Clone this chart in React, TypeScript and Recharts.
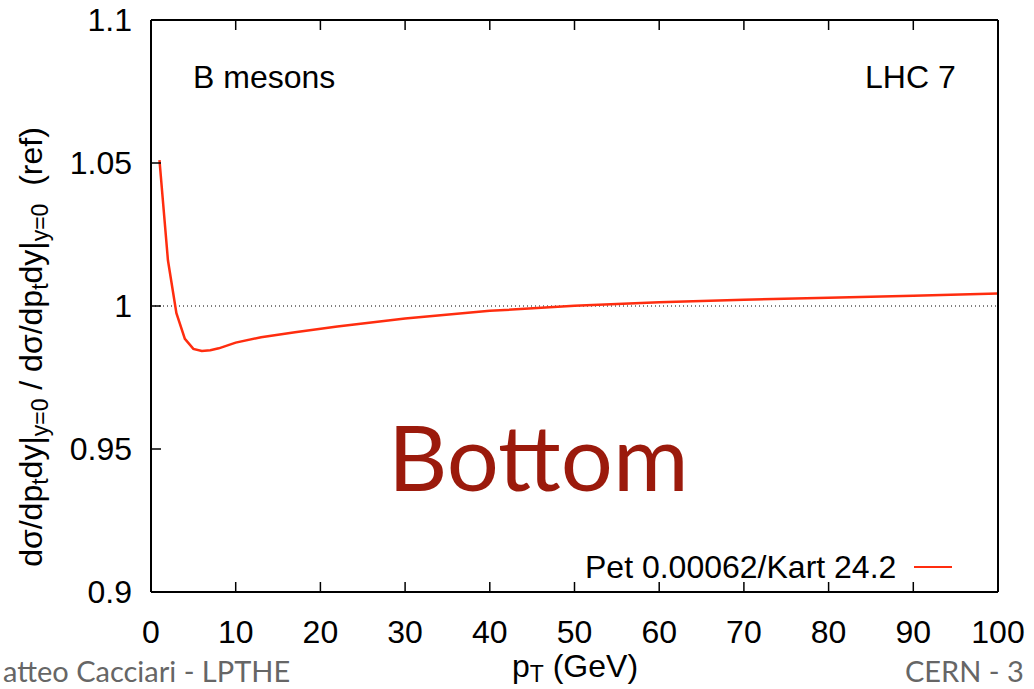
import React from "react";
import {
  LineChart,
  Line,
  XAxis,
  YAxis,
  ReferenceLine,
  Legend,
} from "recharts";

// values
const ptValues = [1, 2, 3, 4, 5, 6, 7, 8, 10, 13, 17, 22, 30, 40, 50, 60, 70, 80, 90, 100];
const ratioValues = [
  1.051, 1.016, 0.9975, 0.9885, 0.985, 0.9843, 0.9845, 0.9852, 0.9872, 0.9891,
  0.9908, 0.9928, 0.9956, 0.9983, 1.0001, 1.0013, 1.0022, 1.0029, 1.0036, 1.0044,
];
const xTicks = [0, 10, 20, 30, 40, 50, 60, 70, 80, 90, 100];
const yTicks = [0.9, 0.95, 1, 1.05, 1.1];
const seriesName = "Pet 0.00062/Kart 24.2";

const data = ptValues.map((pt, i) => ({ pt, ratio: ratioValues[i] }));

const FONT = "'Liberation Sans', Arial, sans-serif";
const SLIDE_FONT = "Lato, 'Open Sans', sans-serif";
const RED = "#ff2d0f";

const BottomTick = (props: any) => {
  const { x, y, payload } = props;
  return (
    <g>
      <line x1={x} y1={y} x2={x} y2={y - 10} stroke="#000" strokeWidth={1.5} />
      <text x={x} y={y + 51} textAnchor="middle" fontSize={32} fontFamily={FONT} fill="#000">
        {payload.value}
      </text>
    </g>
  );
};

const TopTick = (props: any) => {
  const { x, y } = props;
  return <line x1={x} y1={y} x2={x} y2={y + 10} stroke="#000" strokeWidth={1.5} />;
};

const LeftTick = (props: any) => {
  const { x, y, payload } = props;
  return (
    <g>
      <line x1={x} y1={y} x2={x + 10} y2={y} stroke="#000" strokeWidth={1.5} />
      <text x={x - 19} y={y + 11} textAnchor="end" fontSize={32} fontFamily={FONT} fill="#000">
        {String(payload.value)}
      </text>
    </g>
  );
};

const RightTick = (props: any) => {
  const { x, y } = props;
  return <line x1={x} y1={y} x2={x - 10} y2={y} stroke="#000" strokeWidth={1.5} />;
};

const XLabel = () => (
  <text x={575} y={677} textAnchor="middle" fontSize={32} fontFamily={FONT} fill="#000">
    p<tspan baselineShift="-20%" fontSize={23}>T</tspan> (GeV)
  </text>
);

const YLabel = () => (
  <text
    transform="translate(42, 347) rotate(-90)"
    textAnchor="middle"
    fontSize={32}
    fontFamily={FONT}
    fill="#000"
  >
    dσ/dp
    <tspan baselineShift="-25%" fontSize={23}>t</tspan>
    dy|
    <tspan baselineShift="-25%" fontSize={23}>y=0</tspan>
    {" / dσ/dp"}
    <tspan baselineShift="-25%" fontSize={23}>t</tspan>
    dy|
    <tspan baselineShift="-25%" fontSize={23}>y=0</tspan>
    {"\u00a0\u00a0(ref)"}
  </text>
);

const LegendBox = () => (
  <div
    style={{
      display: "flex",
      alignItems: "center",
      fontFamily: FONT,
      fontSize: 32,
      lineHeight: "36px",
      color: "#000",
    }}
  >
    <span>{seriesName}</span>
    <span
      style={{
        display: "inline-block",
        width: 38,
        height: 2,
        background: RED,
        marginLeft: 18,
      }}
    />
  </div>
);

export default function App() {
  return (
    <div
      style={{
        position: "absolute",
        left: 0,
        top: 0,
        width: 1034,
        height: 689,
        background: "#fff",
        overflow: "hidden",
      }}
    >
      <LineChart
        width={1034}
        height={689}
        data={data}
        margin={{ top: 10, right: 26, bottom: 57, left: 91 }}
      >
        <XAxis
          dataKey="pt"
          type="number"
          domain={[0, 100]}
          ticks={xTicks}
          height={40}
          tickSize={0}
          tickMargin={0}
          tick={<BottomTick />}
          tickLine={false}
          axisLine={{ stroke: "#000", strokeWidth: 2 }}
          label={<XLabel />}
        />
        <XAxis
          xAxisId="top"
          orientation="top"
          dataKey="pt"
          type="number"
          domain={[0, 100]}
          ticks={xTicks}
          height={10}
          tickSize={0}
          tickMargin={0}
          tick={<TopTick />}
          tickLine={false}
          axisLine={{ stroke: "#000", strokeWidth: 2 }}
        />
        <YAxis
          type="number"
          domain={[0.9, 1.1]}
          ticks={yTicks}
          width={60}
          tickSize={0}
          tickMargin={0}
          tick={<LeftTick />}
          tickLine={false}
          axisLine={{ stroke: "#000", strokeWidth: 2 }}
          allowDataOverflow
          label={<YLabel />}
        />
        <YAxis
          yAxisId="right"
          orientation="right"
          type="number"
          domain={[0.9, 1.1]}
          ticks={yTicks}
          width={10}
          tickSize={0}
          tickMargin={0}
          tick={<RightTick />}
          tickLine={false}
          axisLine={{ stroke: "#000", strokeWidth: 2 }}
        />
        <ReferenceLine y={1} stroke="#000" strokeWidth={1} strokeDasharray="1 3" />
        <Line
          dataKey="ratio"
          name={seriesName}
          type="linear"
          stroke={RED}
          strokeWidth={2.5}
          dot={false}
          isAnimationActive={false}
        />
        <Legend
          layout="horizontal"
          verticalAlign="middle"
          align="center"
          content={<LegendBox />}
          wrapperStyle={{ left: 585, top: 549, width: 420, right: "auto", bottom: "auto" }}
        />
      </LineChart>

      <div style={{ position: "absolute", left: 193, top: 61, fontFamily: FONT, fontSize: 32, lineHeight: "32px" }}>
        B mesons
      </div>
      <div style={{ position: "absolute", left: 865, top: 61, fontFamily: FONT, fontSize: 32, lineHeight: "32px" }}>
        LHC 7
      </div>
      <div
        style={{
          position: "absolute",
          left: 388,
          top: 410,
          fontFamily: SLIDE_FONT,
          fontSize: 92,
          color: "#9b1a0c",
          lineHeight: 1,
        }}
      >
        Bottom
      </div>
      <div
        style={{
          position: "absolute",
          left: 3,
          top: 658,
          fontFamily: SLIDE_FONT,
          fontSize: 29,
          lineHeight: "26px",
          color: "#666",
          whiteSpace: "nowrap",
        }}
      >
        atteo Cacciari - LPTHE
      </div>
      <div
        style={{
          position: "absolute",
          left: 905,
          top: 658,
          fontFamily: SLIDE_FONT,
          fontSize: 29,
          lineHeight: "26px",
          color: "#666",
          whiteSpace: "nowrap",
        }}
      >
        CERN - 3
      </div>
    </div>
  );
}
